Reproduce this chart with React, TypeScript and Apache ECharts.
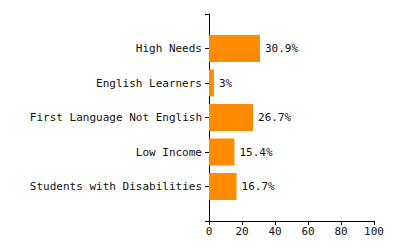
import React, { useEffect, useRef } from "react";
import * as echarts from "echarts";

const categories = ["", "Students with Disabilities", "Low Income", "First Language Not English", "English Learners", "High Needs", ""];
const values: (number | null)[] = [null, 16.7, 15.4, 26.7, 3, 30.9, null];
const xTicks = [0, 20, 40, 60, 80, 100];

export default function App() {
  const ref = useRef<HTMLDivElement>(null);
  useEffect(() => {
    document.body.style.margin = "0";
    const chart = echarts.init(ref.current!, null, { renderer: "svg" });
    const font = "'DejaVu Sans Mono', monospace";
    chart.setOption({
      animation: false,
      grid: { left: 209, right: 26, top: 14, bottom: 29, containLabel: false },
      xAxis: {
        type: "value",
        min: xTicks[0],
        max: xTicks[xTicks.length - 1],
        interval: 20,
        splitLine: { show: false },
        axisLine: { show: true, lineStyle: { color: "#000", width: 1 } },
        axisTick: { show: true, length: 4, lineStyle: { color: "#000" } },
        axisLabel: { color: "#111", fontFamily: font, fontSize: 11, margin: 5 },
      },
      yAxis: {
        type: "category",
        data: categories,
        boundaryGap: false,
        axisLine: { show: true, lineStyle: { color: "#000", width: 1 } },
        axisTick: { show: true, length: 4, alignWithLabel: true, lineStyle: { color: "#000" } },
        axisLabel: { color: "#111", fontFamily: font, fontSize: 11, margin: 7, interval: 0 },
        splitLine: { show: false },
      },
      series: [
        {
          type: "bar",
          data: values,
          barWidth: 27,
          itemStyle: { color: "#FF8C00" },
          label: {
            show: true,
            position: "right",
            distance: 5,
            formatter: "{c}%",
            color: "#111",
            fontFamily: font,
            fontSize: 11,
          },
        },
      ],
    });
    return () => chart.dispose();
  }, []);
  return <div ref={ref} style={{ width: 400, height: 250 }} />;
}
